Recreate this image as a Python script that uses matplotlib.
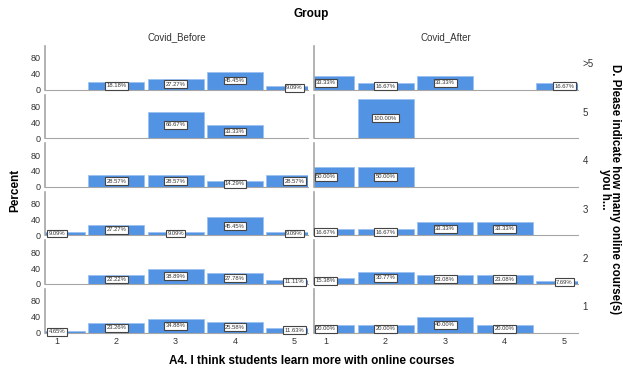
import numpy as np
import matplotlib
matplotlib.use("Agg")
from matplotlib import pyplot as plt

plt.rcParams["font.family"] = ["Liberation Sans", "DejaVu Sans"]

groups = ["Covid_Before", "Covid_After"]
rows = [">5", "5", "4", "3", "2", "1"]
scores = [1, 2, 3, 4, 5]

# percent per answer (1..5) for each row, per group
before = [
    [0, 18.18, 27.27, 45.45, 9.09],
    [0, 0, 66.67, 33.33, 0],
    [0, 28.57, 28.57, 14.29, 28.57],
    [9.09, 27.27, 9.09, 45.45, 9.09],
    [0, 22.22, 38.89, 27.78, 11.11],
    [4.65, 23.26, 34.88, 25.58, 11.63],
]
after = [
    [33.33, 16.67, 33.33, 0, 16.67],
    [0, 100.00, 0, 0, 0],
    [50.00, 50.00, 0, 0, 0],
    [16.67, 16.67, 33.33, 33.33, 0],
    [15.38, 30.77, 23.08, 23.08, 7.69],
    [20.00, 20.00, 40.00, 20.00, 0],
]

W, H = 623, 372
fig = plt.figure(figsize=(W / 100, H / 100), dpi=100)

bar_color = "#5393e3"
spine_color = "#a6a6a6"
col_x = [(45, 308), (314, 578)]
row_top0, row_step, row_h = 46, 48.6, 43.5

for c, data in enumerate([before, after]):
    x0, x1 = col_x[c]
    for r, vals in enumerate(data):
        top = row_top0 + r * row_step
        ax = fig.add_axes([x0 / W, 1 - (top + row_h) / H, (x1 - x0) / W, row_h / H])
        xs = [s for s, v in zip(scores, vals) if v > 0]
        vs = [v for v in vals if v > 0]
        ax.bar(xs, vs, width=0.94, color=bar_color, edgecolor="#9cc2f0", linewidth=0.6)
        for x, v in zip(xs, vs):
            ax.text(x, v / 2, f"{v:.2f}%", ha="center", va="center", fontsize=4.2,
                    color="#333333",
                    bbox=dict(boxstyle="square,pad=0.25", fc="white", ec="#444444", lw=0.8))
        ax.set_xlim(0.8, 5.23)
        ax.set_ylim(0, 110)
        for s in ["top", "right"]:
            ax.spines[s].set_visible(False)
        ax.spines["bottom"].set_color(spine_color)
        ax.spines["left"].set_color(spine_color)
        ax.spines["left"].set_linewidth(1.2)
        ax.tick_params(length=0, labelsize=6.5, colors="#333333", pad=3)
        ax.set_yticks([0, 40, 80])
        if c == 1:
            ax.set_yticklabels([])
            ax.text(1.018, 0.58, rows[r], transform=ax.transAxes, fontsize=7,
                    color="#333333", ha="left", va="center")
        ax.set_xticks(scores)
        if r != len(rows) - 1:
            ax.set_xticklabels([])
        if r == 0:
            ax.set_title(groups[c], fontsize=7, color="#333333", pad=4)

fig.text(0.5, 1 - 14 / H, "Group", ha="center", va="center", fontsize=8.5, fontweight="bold")
fig.text(0.5, 1 - 361 / H, "A4. I think students learn more with online courses",
         ha="center", va="center", fontsize=8.5, fontweight="bold")
fig.text(15 / W, 1 - 190 / H, "Percent", ha="center", va="center", rotation=90,
         fontsize=8.5, fontweight="bold")
fig.text(610 / W, 1 - 189 / H, "D. Please indicate how many online course(s)\nyou h...",
         ha="center", va="center", rotation=-90, fontsize=8.3, fontweight="bold",
         linespacing=0.85)

fig.savefig("out.png", dpi=100, facecolor="white")
